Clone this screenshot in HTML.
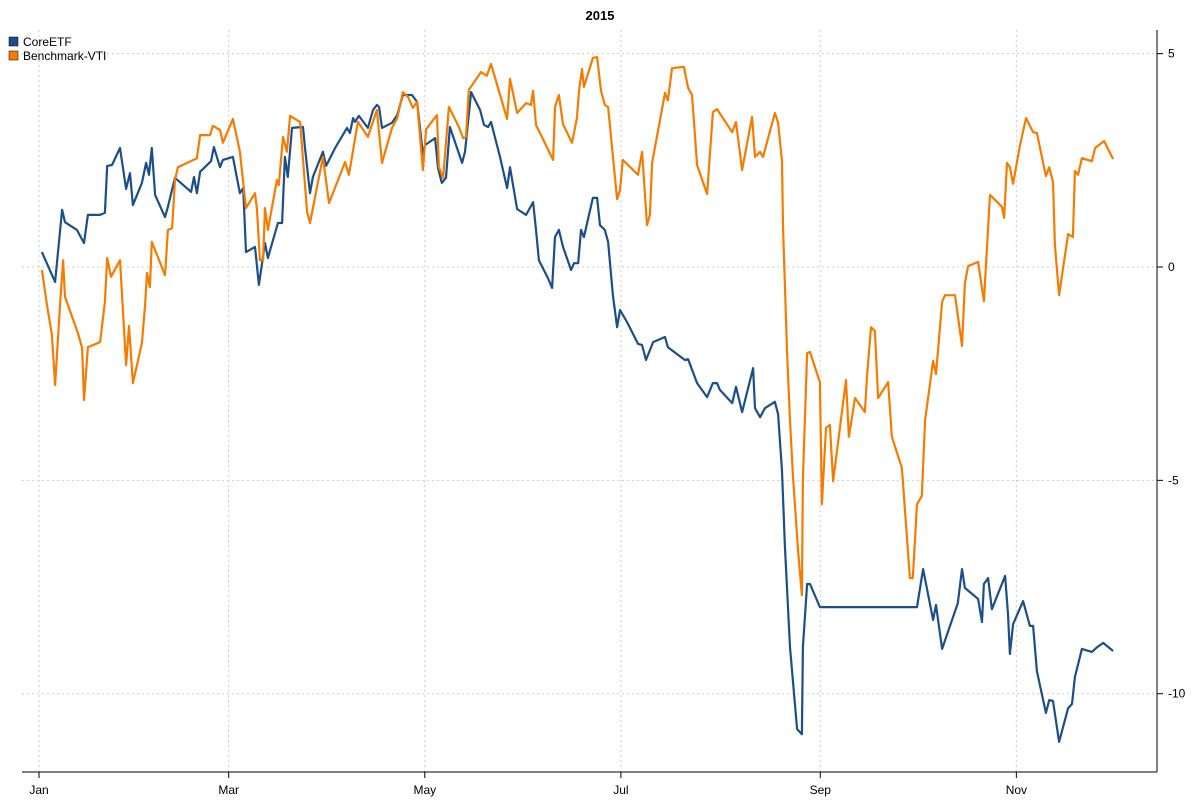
<!DOCTYPE html>
<html><head><meta charset="utf-8"><style>
body{margin:0;background:#fff;}
svg text{font-family:"Liberation Sans",sans-serif;}
</style></head><body>
<svg id="chart" width="1200" height="800" viewBox="0 0 1200 800" xmlns="http://www.w3.org/2000/svg">
<text x="600" y="20" text-anchor="middle" font-size="13" font-weight="bold">2015</text>
<g id="grid"></g>
<g id="axes"></g>
<g id="series"></g>
<g>
<rect x="9" y="37" width="9" height="9" fill="#1B4F8A" stroke="#000" stroke-width="0.5"/>
<text x="23" y="46" font-size="12">CoreETF</text>
<rect x="9" y="51" width="9" height="9" fill="#F57C00" stroke="#000" stroke-width="0.5"/>
<text x="23" y="60" font-size="12">Benchmark-VTI</text>
</g>
</svg>
<script>
const monthLabels = ["Jan","Mar","May","Jul","Sep","Nov"];
const monthDays = [0,59,120,181,243,304];
const yTicks = [5,0,-5,-10];
const coreEtf = [[0.9,0.35],[5,-0.35],[7.2,1.34],[8.1,1.05],[11.8,0.87],[14,0.56],[15.2,1.22],[19,1.22],[20.5,1.27],[21.2,2.37],[22.7,2.39],[25.2,2.79],[27.1,1.83],[28.3,2.2],[29.2,1.45],[32,1.97],[33.3,2.44],[34.2,2.16],[35.1,2.79],[36.1,1.69],[39.2,1.17],[40.1,1.41],[42.3,2.09],[47.3,1.76],[48.2,2.11],[49.1,1.73],[50.1,2.23],[53.5,2.48],[54.4,2.81],[56.3,2.34],[57.2,2.51],[60.3,2.58],[62.5,1.73],[63.5,1.85],[64.4,0.35],[67.2,0.47],[68.4,-0.42],[70.3,0.56],[71.2,0.21],[74.3,1.03],[75.6,1.03],[76.5,2.58],[77.4,2.11],[78.7,3.26],[82.1,3.28],[82.7,2.81],[84.3,1.73],[85.2,2.11],[88.3,2.7],[89.3,2.37],[92.1,2.79],[95.8,3.26],[96.7,3.14],[97.7,3.49],[98.3,3.4],[99.5,3.54],[102.3,3.26],[103.9,3.68],[105.1,3.8],[105.8,3.75],[106.7,3.26],[109.8,3.38],[111.4,3.56],[113.2,4.03],[116,4.03],[117.6,3.87],[118.5,3.26],[119.4,2.63],[120.1,2.86],[123.2,3.02],[124.1,2.32],[125.3,1.97],[126.6,2.09],[127.8,3.28],[131.6,2.44],[132.5,2.7],[134.4,4.1],[137.2,3.68],[138.4,3.33],[139.7,3.28],[140.6,3.4],[143.4,2.58],[145.6,1.85],[146.5,2.34],[148.7,1.36],[151.5,1.22],[153.7,1.52],[154.6,0.87],[155.5,0.16],[158.3,-0.26],[159.6,-0.49],[160.5,0.7],[161.7,0.87],[163,0.47],[165.5,-0.07],[166.4,0.09],[167.7,0.09],[168.6,0.87],[169.5,0.7],[172.3,1.62],[173.6,1.62],[174.5,0.98],[176,0.87],[177,0.59],[178.5,-0.66],[179.8,-1.41],[180.7,-1.01],[182.9,-1.29],[186.3,-1.8],[187.6,-1.83],[188.8,-2.18],[191,-1.76],[194.7,-1.64],[195.6,-1.88],[200.9,-2.18],[201.9,-2.16],[204.7,-2.72],[207.8,-3.05],[209.6,-2.72],[210.9,-2.72],[211.8,-2.88],[215.6,-3.19],[216.8,-2.81],[218.7,-3.4],[222.1,-2.37],[222.7,-3.31],[224.3,-3.52],[225.8,-3.31],[228.9,-3.16],[229.9,-3.45],[231.1,-4.78],[232,-6.54],[233.6,-8.91],[235.8,-10.83],[237.3,-10.95],[237.6,-8.91],[238.9,-7.43],[239.8,-7.43],[242.9,-7.97],[273.1,-7.97],[275,-7.08],[278.1,-8.27],[279,-7.92],[280.9,-8.95],[285.8,-7.88],[287.1,-7.08],[288,-7.52],[292.1,-7.78],[293.3,-8.32],[293.9,-7.43],[295.2,-7.29],[296.4,-8.02],[300.5,-7.24],[301.4,-8.13],[302,-9.07],[303,-8.37],[306.1,-7.83],[308.2,-8.41],[309.2,-8.41],[310.4,-9.47],[313.2,-10.45],[314.2,-10.15],[315.4,-10.17],[317.3,-11.13],[320.1,-10.34],[321.3,-10.24],[322.2,-9.61],[324.4,-8.95],[327.5,-9.02],[329.1,-8.91],[331,-8.81],[334.1,-9]];
const benchmarkVti = [[0.9,-0.07],[2.5,-0.89],[4,-1.59],[5,-2.77],[6.5,-0.94],[7.5,0.16],[8.1,-0.7],[12.1,-1.55],[13.4,-1.9],[14,-3.12],[15.2,-1.88],[19,-1.76],[20.5,-0.82],[21.2,0.21],[22.4,-0.23],[25.2,0.16],[27.1,-2.3],[28,-1.38],[29.2,-2.72],[32,-1.78],[33,-0.89],[33.6,-0.14],[34.5,-0.47],[35.1,0.59],[39.2,-0.19],[40.1,0.87],[41.4,0.91],[42.3,2.04],[43.2,2.34],[49.1,2.55],[50.1,3.09],[53.2,3.09],[54.1,3.31],[56.3,3.21],[57.2,2.91],[60.3,3.47],[62.5,2.7],[64.4,1.38],[67.2,1.73],[67.8,1.34],[68.7,0.16],[69.7,0.16],[70.3,1.38],[71.2,0.87],[74,2.04],[74.6,1.92],[75.9,3.05],[77.1,2.7],[78.1,3.54],[81.2,3.4],[83.4,1.29],[84.3,1.03],[88.3,2.58],[90.2,1.5],[95.2,2.46],[96.4,2.16],[99.2,3.4],[102.3,3.05],[105.1,3.68],[106.7,2.44],[109.8,3.26],[111.4,3.49],[113.2,4.1],[114.8,3.98],[116.3,3.73],[117.6,3.87],[119.4,2.27],[120.4,3.23],[123.8,3.56],[124.4,2.34],[125.7,2.09],[127.5,3.75],[130.6,3.28],[131.9,3.02],[132.8,3.05],[133.7,4.15],[137.5,4.57],[139.3,4.48],[140.6,4.76],[145.6,3.47],[146.5,4.41],[148.7,3.61],[151.5,3.84],[153,3.8],[153.7,4.13],[154.6,3.33],[159.9,2.51],[160.5,3.75],[161.7,4.03],[163,3.35],[165.8,2.91],[167.3,3.49],[168,4.15],[168.9,4.64],[169.5,4.22],[172.3,4.9],[173.6,4.92],[174.8,4.13],[176,3.8],[177,3.75],[179.8,1.59],[180.7,1.8],[181.6,2.51],[186.3,2.16],[187.6,2.7],[189.1,0.98],[190,1.22],[190.7,2.44],[194.7,4.08],[195.6,3.91],[196.9,4.66],[200.6,4.69],[201.9,4.2],[203.1,4.03],[204.7,2.39],[207.8,1.71],[209.6,3.63],[210.9,3.7],[215.6,3.16],[216.8,3.4],[218.7,2.27],[221.8,3.52],[222.7,2.58],[224.3,2.7],[225.2,2.58],[228.9,3.61],[229.9,3.38],[231.1,2.48],[231.4,0.96],[232.7,-2.02],[233.6,-3.59],[234.5,-4.88],[236.1,-6.66],[237.3,-7.69],[237.6,-4.97],[238.9,-2.02],[239.8,-1.99],[242.9,-2.7],[243.5,-5.56],[244.8,-3.77],[246,-3.7],[247,-5.02],[251,-2.65],[251.9,-3.98],[253.8,-3.07],[256.9,-3.4],[257.5,-2.6],[258.8,-1.41],[260,-1.5],[261,-3.07],[264.1,-2.7],[265.3,-3.98],[268.4,-4.71],[270.9,-7.29],[271.8,-7.29],[273.1,-5.56],[274.6,-5.37],[275.6,-3.59],[278.1,-2.2],[279,-2.51],[280.9,-0.82],[281.8,-0.66],[284.9,-0.66],[287.1,-1.85],[288,-0.38],[289,0.02],[292.1,0.12],[293.9,-0.8],[295.8,1.69],[299.5,1.41],[300.2,1.15],[301.1,2.44],[302,2.34],[303,1.95],[305.1,2.84],[307,3.49],[309.2,3.16],[310.4,3.14],[313.2,2.13],[314.2,2.34],[315.4,1.99],[316,0.52],[317.3,-0.66],[319.1,0.26],[320.1,0.77],[321.6,0.7],[322.2,2.25],[323.2,2.16],[324.4,2.55],[327.5,2.48],[328.5,2.79],[331.3,2.95],[334.1,2.53]];

const X0=39, PXD=3.215, Y0=267, PXU=42.67;
function xs(d){return X0+d*PXD;}
function ys(v){return Y0-v*PXU;}
const NS="http://www.w3.org/2000/svg";
const grid=document.getElementById('grid'), axes=document.getElementById('axes'), series=document.getElementById('series');
function mk(tag,attrs,parent){const e=document.createElementNS(NS,tag);for(const k in attrs)e.setAttribute(k,attrs[k]);parent.appendChild(e);return e;}
const L=22,R=1157,T=30,B=772;
yTicks.forEach(v=>{
  const y=ys(v);
  const g=mk('line',{x1:L,x2:R,y1:y,y2:y,stroke:'#ccc','stroke-dasharray':'2,3'},grid);
  
  
  const t=mk('line',{x1:R,x2:R+6,y1:y,y2:y,stroke:'#000'},axes);
  
  
  const lb=mk('text',{x:R+11,y:y+4,'font-size':'12'},axes);
  lb.textContent=v;
  
  
});
monthDays.forEach((d,i)=>{
  const x=xs(d);
  const g=mk('line',{x1:x,x2:x,y1:T,y2:B,stroke:'#ccc','stroke-dasharray':'2,3'},grid);
  
  
  const t=mk('line',{x1:x,x2:x,y1:B,y2:B+6,stroke:'#000'},axes);
  
  
  const lb=mk('text',{x:x,y:B+22,'font-size':'12','text-anchor':'middle'},axes);
  lb.textContent=monthLabels[i];
  
  
});
const xa=mk('line',{x1:L,x2:R,y1:B,y2:B,stroke:'#000'},axes);


const ya=mk('line',{x1:R,x2:R,y1:T,y2:B,stroke:'#000'},axes);


function draw(data,color,name){
  const p=mk('path',{d:data.map((pt,i)=>(i?'L':'M')+xs(pt[0]).toFixed(1)+','+ys(pt[1]).toFixed(1)).join(''),fill:'none',stroke:color,'stroke-width':'2.2','stroke-linejoin':'round'},series);
  
  
}
draw(coreEtf,'#1B4F8A','line-coreetf');
draw(benchmarkVti,'#F57C00','line-benchmark-vti');
</script>
</body></html>
